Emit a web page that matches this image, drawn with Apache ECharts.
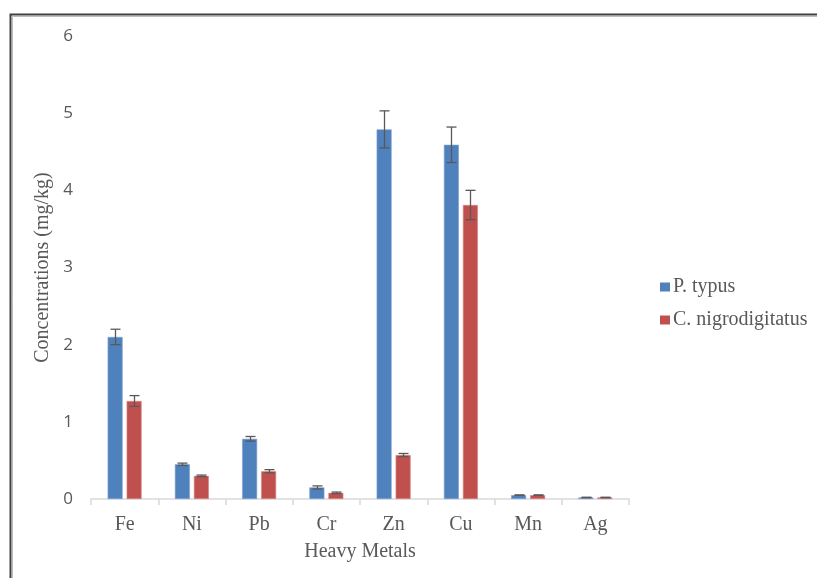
<!DOCTYPE html>
<html>
<head>
<meta charset="utf-8">
<script src="https://cdn.jsdelivr.net/npm/echarts@6/dist/echarts.min.js"></script>
<style>html,body{margin:0;padding:0;background:#fff;}#c{width:817px;height:578px;}</style>
</head>
<body>
<div id="c"></div>
<script>
const categories = ['Fe', 'Ni', 'Pb', 'Cr', 'Zn', 'Cu', 'Mn', 'Ag'];
const seriesNames = ['P. typus', 'C. nigrodigitatus'];
const pTypus = [2.10, 0.45, 0.78, 0.15, 4.79, 4.59, 0.05, 0.02];
const pTypusErr = [0.10, 0.015, 0.03, 0.02, 0.24, 0.23, 0.003, 0.003];
const cNigro = [1.27, 0.30, 0.36, 0.08, 0.57, 3.81, 0.05, 0.02];
const cNigroErr = [0.07, 0.01, 0.02, 0.01, 0.02, 0.19, 0.003, 0.003];
const yTicks = [0, 1, 2, 3, 4, 5, 6];

const BAR_W = 15, BAR_GAP = 4;
function errData(vals, errs) {
  return vals.map((v, i) => [i, v - errs[i], v + errs[i]]);
}
function errRender(offset) {
  return function (params, api) {
    const idx = api.value(0);
    const lo = api.coord([idx, api.value(1)]);
    const hi = api.coord([idx, api.value(2)]);
    const x = Math.round(lo[0] + offset) + 0.5;
    const half = 5;
    const style = { stroke: '#595959', lineWidth: 1.3 };
    return {
      type: 'group',
      children: [
        { type: 'line', shape: { x1: x, y1: hi[1], x2: x, y2: lo[1] }, style },
        { type: 'line', shape: { x1: x - half, y1: hi[1], x2: x + half, y2: hi[1] }, style },
        { type: 'line', shape: { x1: x - half, y1: lo[1], x2: x + half, y2: lo[1] }, style }
      ]
    };
  };
}

const chart = echarts.init(document.getElementById('c'));
const off = (BAR_W + BAR_GAP) / 2;
chart.setOption({
  animation: false,
  backgroundColor: '#fff',
  grid: { left: 91, right: 188, top: 36, bottom: 79 },
  legend: {
    data: seriesNames,
    orient: 'vertical',
    left: 655,
    top: 272,
    itemWidth: 10,
    itemHeight: 9,
    itemGap: 13,
    icon: 'rect',
    itemStyle: { borderWidth: 0 },
    textStyle: { fontFamily: 'Liberation Serif', fontSize: 20, color: '#595959', padding: [0, 0, 0, -2] }
  },
  xAxis: {
    type: 'category',
    data: categories,
    name: 'Heavy Metals',
    nameLocation: 'middle',
    nameGap: 43,
    nameTextStyle: { fontFamily: 'Liberation Serif', fontSize: 20, color: '#595959' },
    axisLine: { lineStyle: { color: '#d9d9d9', width: 1.5 } },
    axisTick: { show: true, length: 6, lineStyle: { color: '#d9d9d9', width: 1.5 } },
    axisLabel: { fontFamily: 'Liberation Serif', fontSize: 20, color: '#595959', margin: 16 }
  },
  yAxis: {
    type: 'value',
    min: yTicks[0],
    max: yTicks[yTicks.length - 1],
    interval: 1,
    name: 'Concentrations (mg/kg)',
    nameLocation: 'middle',
    nameGap: 31,
    nameTextStyle: { fontFamily: 'Liberation Serif', fontSize: 20, color: '#595959' },
    axisLine: { show: false },
    axisTick: { show: false },
    splitLine: { show: false },
    axisLabel: { fontFamily: 'Open Sans', fontSize: 17, color: '#595959', margin: 18 }
  },
  series: [
    {
      name: seriesNames[0], type: 'bar', data: pTypus, barWidth: BAR_W, barGap: (BAR_GAP / BAR_W * 100) + '%',
      itemStyle: { color: '#4F81BD', borderColor: '#7fa3d3', borderWidth: 0.6 }
    },
    {
      name: seriesNames[1], type: 'bar', data: cNigro, barWidth: BAR_W,
      itemStyle: { color: '#C0504D', borderColor: '#d98a88', borderWidth: 0.6 }
    },
    {
      type: 'custom', name: 'errA', data: errData(pTypus, pTypusErr),
      encode: { x: 0, y: [1, 2] }, renderItem: errRender(-off), z: 10
    },
    {
      type: 'custom', name: 'errB', data: errData(cNigro, cNigroErr),
      encode: { x: 0, y: [1, 2] }, renderItem: errRender(off), z: 10
    }
  ],
  graphic: [
    { type: 'polyline', shape: { points: [[10.5, 578], [10.5, 14.5], [817, 14.5]] }, style: { stroke: '#404040', lineWidth: 2, fill: null } },
    { type: 'polyline', shape: { points: [[12.5, 578], [12.5, 16.5], [817, 16.5]] }, style: { stroke: '#bdbdbd', lineWidth: 1, fill: null } }
  ]
});
</script>
</body>
</html>
